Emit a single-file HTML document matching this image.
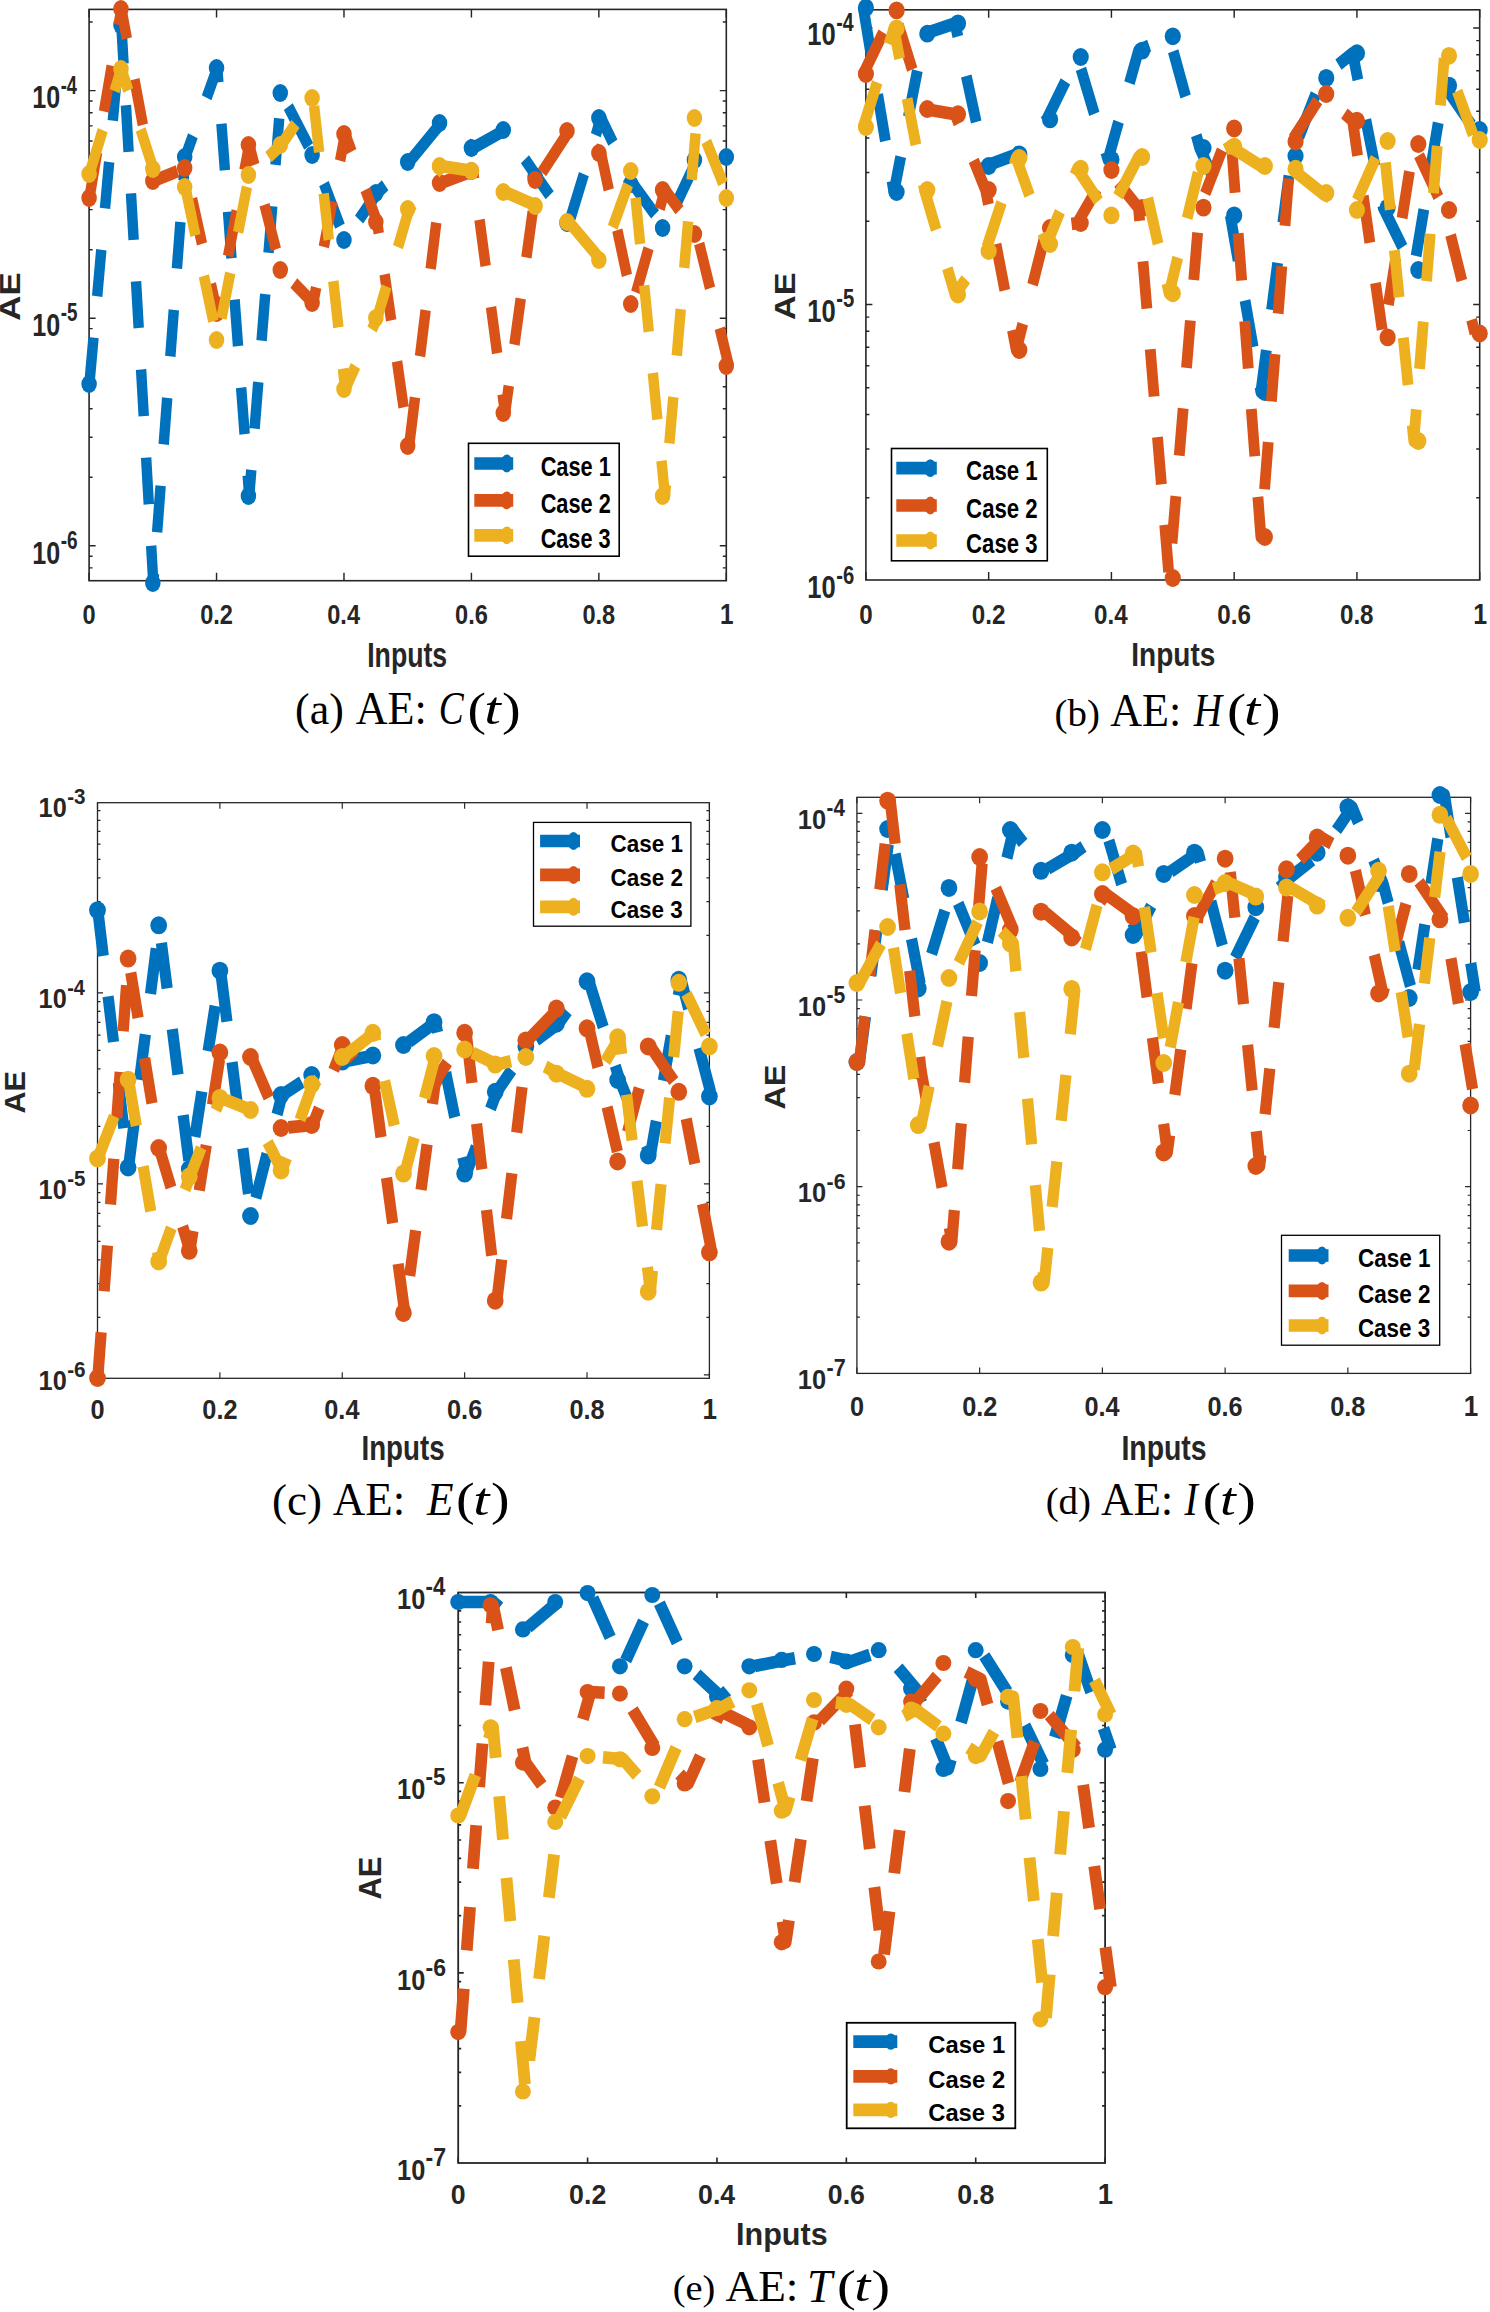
<!DOCTYPE html><html><head><meta charset="utf-8"><title>AE plots</title><style>html,body{margin:0;padding:0;background:#fff;}svg{display:block;}</style></head><body>
<svg width="1490" height="2312" viewBox="0 0 1490 2312">
<rect width="1490" height="2312" fill="#fff"/>
<g><path d="M89.1 580.7v-8M89.1 9.4v8M216.54 580.7v-8M216.54 9.4v8M343.98 580.7v-8M343.98 9.4v8M471.42 580.7v-8M471.42 9.4v8M598.86 580.7v-8M598.86 9.4v8M726.3 580.7v-8M726.3 9.4v8M89.1 567.86h3.5M726.3 567.86h-3.5M89.1 556.21h3.5M726.3 556.21h-3.5M89.1 545.8h6.5M726.3 545.8h-6.5M89.1 477.29h3.5M726.3 477.29h-3.5M89.1 437.21h3.5M726.3 437.21h-3.5M89.1 408.77h3.5M726.3 408.77h-3.5M89.1 386.71h3.5M726.3 386.71h-3.5M89.1 368.69h3.5M726.3 368.69h-3.5M89.1 353.46h3.5M726.3 353.46h-3.5M89.1 340.26h3.5M726.3 340.26h-3.5M89.1 328.61h3.5M726.3 328.61h-3.5M89.1 318.2h6.5M726.3 318.2h-6.5M89.1 249.69h3.5M726.3 249.69h-3.5M89.1 209.61h3.5M726.3 209.61h-3.5M89.1 181.17h3.5M726.3 181.17h-3.5M89.1 159.11h3.5M726.3 159.11h-3.5M89.1 141.09h3.5M726.3 141.09h-3.5M89.1 125.86h3.5M726.3 125.86h-3.5M89.1 112.66h3.5M726.3 112.66h-3.5M89.1 101.01h3.5M726.3 101.01h-3.5M89.1 90.6h6.5M726.3 90.6h-6.5M89.1 22.09h3.5M726.3 22.09h-3.5" stroke="#262626" stroke-width="1.44" fill="none"/><rect x="89.1" y="9.4" width="637.2" height="571.3" fill="none" stroke="#262626" stroke-width="1.6"/><text transform="matrix(0.83,0,0,1,82.58,623.52)" font-family='"Liberation Sans", sans-serif' font-size="28.41" font-weight="bold" fill="#262626">0</text><text transform="matrix(0.83,0,0,1,200.21,623.52)" font-family='"Liberation Sans", sans-serif' font-size="28.41" font-weight="bold" fill="#262626">0.2</text><text transform="matrix(0.83,0,0,1,327.24,623.52)" font-family='"Liberation Sans", sans-serif' font-size="28.41" font-weight="bold" fill="#262626">0.4</text><text transform="matrix(0.83,0,0,1,455.03,623.52)" font-family='"Liberation Sans", sans-serif' font-size="28.41" font-weight="bold" fill="#262626">0.6</text><text transform="matrix(0.83,0,0,1,582.41,623.52)" font-family='"Liberation Sans", sans-serif' font-size="28.41" font-weight="bold" fill="#262626">0.8</text><text transform="matrix(0.83,0,0,1,719.97,623.8)" font-family='"Liberation Sans", sans-serif' font-size="29.24" font-weight="bold" fill="#262626">1</text><text transform="matrix(0.8,0,0,1,32.34,563.58)" font-family='"Liberation Sans", sans-serif' font-size="31.38" font-weight="bold" fill="#262626">10</text><text transform="matrix(0.74,0,0,1,60.64,548.65)" font-family='"Liberation Sans", sans-serif' font-size="25.73" font-weight="bold" fill="#262626">-6</text><text transform="matrix(0.8,0,0,1,32.34,335.98)" font-family='"Liberation Sans", sans-serif' font-size="31.38" font-weight="bold" fill="#262626">10</text><text transform="matrix(0.72,0,0,1,60.65,321.05)" font-family='"Liberation Sans", sans-serif' font-size="26.1" font-weight="bold" fill="#262626">-5</text><text transform="matrix(0.8,0,0,1,32.34,108.38)" font-family='"Liberation Sans", sans-serif' font-size="31.38" font-weight="bold" fill="#262626">10</text><text transform="matrix(0.69,0,0,1,60.67,93.71)" font-family='"Liberation Sans", sans-serif' font-size="26.48" font-weight="bold" fill="#262626">-4</text><text transform="matrix(0.77,0,0,1,367.2,666.71)" font-family='"Liberation Sans", sans-serif' font-size="34.64" font-weight="bold" fill="#262626">Inputs</text><text transform="matrix(0,-1.15,1,0,19.8,320.67)" font-family='"Liberation Sans", sans-serif' font-size="30.25" font-weight="bold" fill="#262626">AE</text><path transform="matrix(0.83,0,0,1,15.41,0)" d="M89.1 384 L127.62 25 L166.15 583 L204.67 157 L243.2 68 L281.72 496 L320.25 93 L358.77 155 L397.3 240 L435.82 193 L474.35 162 L512.87 123 L551.4 148 L589.92 130 L628.45 177 L666.97 223 L705.5 118 L744.02 184 L782.55 228 L821.07 160 L859.6 157" fill="none" stroke="#0072BD" stroke-width="12.6" stroke-dasharray="46.7 41.6" stroke-linejoin="round"/><ellipse cx="89.1" cy="384" rx="7.76" ry="8.9" fill="#0072BD"/><ellipse cx="120.96" cy="25" rx="7.76" ry="8.9" fill="#0072BD"/><ellipse cx="152.82" cy="583" rx="7.76" ry="8.9" fill="#0072BD"/><ellipse cx="184.68" cy="157" rx="7.76" ry="8.9" fill="#0072BD"/><ellipse cx="216.54" cy="68" rx="7.76" ry="8.9" fill="#0072BD"/><ellipse cx="248.4" cy="496" rx="7.76" ry="8.9" fill="#0072BD"/><ellipse cx="280.26" cy="93" rx="7.76" ry="8.9" fill="#0072BD"/><ellipse cx="312.12" cy="155" rx="7.76" ry="8.9" fill="#0072BD"/><ellipse cx="343.98" cy="240" rx="7.76" ry="8.9" fill="#0072BD"/><ellipse cx="375.84" cy="193" rx="7.76" ry="8.9" fill="#0072BD"/><ellipse cx="407.7" cy="162" rx="7.76" ry="8.9" fill="#0072BD"/><ellipse cx="439.56" cy="123" rx="7.76" ry="8.9" fill="#0072BD"/><ellipse cx="471.42" cy="148" rx="7.76" ry="8.9" fill="#0072BD"/><ellipse cx="503.28" cy="130" rx="7.76" ry="8.9" fill="#0072BD"/><ellipse cx="535.14" cy="177" rx="7.76" ry="8.9" fill="#0072BD"/><ellipse cx="567" cy="223" rx="7.76" ry="8.9" fill="#0072BD"/><ellipse cx="598.86" cy="118" rx="7.76" ry="8.9" fill="#0072BD"/><ellipse cx="630.72" cy="184" rx="7.76" ry="8.9" fill="#0072BD"/><ellipse cx="662.58" cy="228" rx="7.76" ry="8.9" fill="#0072BD"/><ellipse cx="694.44" cy="160" rx="7.76" ry="8.9" fill="#0072BD"/><ellipse cx="726.3" cy="157" rx="7.76" ry="8.9" fill="#0072BD"/><path transform="matrix(0.83,0,0,1,15.41,0)" d="M89.1 198 L127.62 9 L166.15 181 L204.67 168 L243.2 313 L281.72 145 L320.25 270 L358.77 303 L397.3 134 L435.82 222 L474.35 446 L512.87 183 L551.4 171 L589.92 413 L628.45 180 L666.97 131 L705.5 153 L744.02 304 L782.55 190 L821.07 234 L859.6 366" fill="none" stroke="#D95319" stroke-width="12.6" stroke-dasharray="46.7 41.6" stroke-linejoin="round"/><ellipse cx="89.1" cy="198" rx="7.76" ry="8.9" fill="#D95319"/><ellipse cx="120.96" cy="9" rx="7.76" ry="8.9" fill="#D95319"/><ellipse cx="152.82" cy="181" rx="7.76" ry="8.9" fill="#D95319"/><ellipse cx="184.68" cy="168" rx="7.76" ry="8.9" fill="#D95319"/><ellipse cx="216.54" cy="313" rx="7.76" ry="8.9" fill="#D95319"/><ellipse cx="248.4" cy="145" rx="7.76" ry="8.9" fill="#D95319"/><ellipse cx="280.26" cy="270" rx="7.76" ry="8.9" fill="#D95319"/><ellipse cx="312.12" cy="303" rx="7.76" ry="8.9" fill="#D95319"/><ellipse cx="343.98" cy="134" rx="7.76" ry="8.9" fill="#D95319"/><ellipse cx="375.84" cy="222" rx="7.76" ry="8.9" fill="#D95319"/><ellipse cx="407.7" cy="446" rx="7.76" ry="8.9" fill="#D95319"/><ellipse cx="439.56" cy="183" rx="7.76" ry="8.9" fill="#D95319"/><ellipse cx="471.42" cy="171" rx="7.76" ry="8.9" fill="#D95319"/><ellipse cx="503.28" cy="413" rx="7.76" ry="8.9" fill="#D95319"/><ellipse cx="535.14" cy="180" rx="7.76" ry="8.9" fill="#D95319"/><ellipse cx="567" cy="131" rx="7.76" ry="8.9" fill="#D95319"/><ellipse cx="598.86" cy="153" rx="7.76" ry="8.9" fill="#D95319"/><ellipse cx="630.72" cy="304" rx="7.76" ry="8.9" fill="#D95319"/><ellipse cx="662.58" cy="190" rx="7.76" ry="8.9" fill="#D95319"/><ellipse cx="694.44" cy="234" rx="7.76" ry="8.9" fill="#D95319"/><ellipse cx="726.3" cy="366" rx="7.76" ry="8.9" fill="#D95319"/><path transform="matrix(0.83,0,0,1,15.41,0)" d="M89.1 174 L127.62 69 L166.15 169 L204.67 187 L243.2 340 L281.72 175 L320.25 145 L358.77 98 L397.3 389 L435.82 318 L474.35 209 L512.87 166 L551.4 171 L589.92 192 L628.45 206 L666.97 222 L705.5 260 L744.02 171 L782.55 496 L821.07 118 L859.6 198" fill="none" stroke="#EDB120" stroke-width="12.6" stroke-dasharray="46.7 41.6" stroke-linejoin="round"/><ellipse cx="89.1" cy="174" rx="7.76" ry="8.9" fill="#EDB120"/><ellipse cx="120.96" cy="69" rx="7.76" ry="8.9" fill="#EDB120"/><ellipse cx="152.82" cy="169" rx="7.76" ry="8.9" fill="#EDB120"/><ellipse cx="184.68" cy="187" rx="7.76" ry="8.9" fill="#EDB120"/><ellipse cx="216.54" cy="340" rx="7.76" ry="8.9" fill="#EDB120"/><ellipse cx="248.4" cy="175" rx="7.76" ry="8.9" fill="#EDB120"/><ellipse cx="280.26" cy="145" rx="7.76" ry="8.9" fill="#EDB120"/><ellipse cx="312.12" cy="98" rx="7.76" ry="8.9" fill="#EDB120"/><ellipse cx="343.98" cy="389" rx="7.76" ry="8.9" fill="#EDB120"/><ellipse cx="375.84" cy="318" rx="7.76" ry="8.9" fill="#EDB120"/><ellipse cx="407.7" cy="209" rx="7.76" ry="8.9" fill="#EDB120"/><ellipse cx="439.56" cy="166" rx="7.76" ry="8.9" fill="#EDB120"/><ellipse cx="471.42" cy="171" rx="7.76" ry="8.9" fill="#EDB120"/><ellipse cx="503.28" cy="192" rx="7.76" ry="8.9" fill="#EDB120"/><ellipse cx="535.14" cy="206" rx="7.76" ry="8.9" fill="#EDB120"/><ellipse cx="567" cy="222" rx="7.76" ry="8.9" fill="#EDB120"/><ellipse cx="598.86" cy="260" rx="7.76" ry="8.9" fill="#EDB120"/><ellipse cx="630.72" cy="171" rx="7.76" ry="8.9" fill="#EDB120"/><ellipse cx="662.58" cy="496" rx="7.76" ry="8.9" fill="#EDB120"/><ellipse cx="694.44" cy="118" rx="7.76" ry="8.9" fill="#EDB120"/><ellipse cx="726.3" cy="198" rx="7.76" ry="8.9" fill="#EDB120"/><rect x="468.5" y="443.3" width="150.7" height="112.9" fill="#fff" stroke="#000" stroke-width="1.6"/><path d="M474.3 463.5H513.2" stroke="#0072BD" stroke-width="12.7"/><ellipse cx="506.7" cy="463.5" rx="6" ry="8.9" fill="#0072BD"/><text transform="matrix(0.79,0,0,1,540.63,475.87)" font-family='"Liberation Sans", sans-serif' font-size="27.56" font-weight="bold" fill="#000">Case 1</text><path d="M474.3 500.4H513.2" stroke="#D95319" stroke-width="12.7"/><ellipse cx="506.7" cy="500.4" rx="6" ry="8.9" fill="#D95319"/><text transform="matrix(0.79,0,0,1,540.63,512.77)" font-family='"Liberation Sans", sans-serif' font-size="27.56" font-weight="bold" fill="#000">Case 2</text><path d="M474.3 535.3H513.2" stroke="#EDB120" stroke-width="12.7"/><ellipse cx="506.7" cy="535.3" rx="6" ry="8.9" fill="#EDB120"/><text transform="matrix(0.79,0,0,1,540.63,547.61)" font-family='"Liberation Sans", sans-serif' font-size="27.46" font-weight="bold" fill="#000">Case 3</text></g>
<text transform="matrix(0.99,0,0,1,295.12,723.69)" font-family='"Liberation Serif", serif' font-size="44.3" fill="#000">(a)</text>
<text transform="matrix(0.97,0,0,1,355.76,723.72)" font-family='"Liberation Serif", serif' font-size="45.48" fill="#000">AE:</text>
<text transform="matrix(0.82,0,0,1,438.63,724.14)" font-family='"Liberation Serif", serif' font-size="45.65" font-style="italic" fill="#000">C</text>
<text transform="matrix(1.21,0,0,1,467.49,724.54)" font-family='"Liberation Serif", serif' font-size="45.95" fill="#000">(</text>
<text transform="matrix(1.28,0,0,1,484.21,724.13)" font-family='"Liberation Serif", serif' font-size="46.61" font-style="italic" fill="#000">t</text>
<text transform="matrix(1.23,0,0,1,501.97,724.61)" font-family='"Liberation Serif", serif' font-size="45.62" fill="#000">)</text>
<g><path d="M865.9 580v-8M865.9 9.8v8M988.66 580v-8M988.66 9.8v8M1111.42 580v-8M1111.42 9.8v8M1234.18 580v-8M1234.18 9.8v8M1356.94 580v-8M1356.94 9.8v8M1479.7 580v-8M1479.7 9.8v8M865.9 497.77h3.5M1479.7 497.77h-3.5M865.9 449.08h3.5M1479.7 449.08h-3.5M865.9 414.53h3.5M1479.7 414.53h-3.5M865.9 387.73h3.5M1479.7 387.73h-3.5M865.9 365.84h3.5M1479.7 365.84h-3.5M865.9 347.33h3.5M1479.7 347.33h-3.5M865.9 331.3h3.5M1479.7 331.3h-3.5M865.9 317.15h3.5M1479.7 317.15h-3.5M865.9 304.5h6.5M1479.7 304.5h-6.5M865.9 221.27h3.5M1479.7 221.27h-3.5M865.9 172.58h3.5M1479.7 172.58h-3.5M865.9 138.03h3.5M1479.7 138.03h-3.5M865.9 111.23h3.5M1479.7 111.23h-3.5M865.9 89.34h3.5M1479.7 89.34h-3.5M865.9 70.83h3.5M1479.7 70.83h-3.5M865.9 54.8h3.5M1479.7 54.8h-3.5M865.9 40.65h3.5M1479.7 40.65h-3.5M865.9 28h6.5M1479.7 28h-6.5" stroke="#262626" stroke-width="1.44" fill="none"/><rect x="865.9" y="9.8" width="613.8" height="570.2" fill="none" stroke="#262626" stroke-width="1.6"/><text transform="matrix(0.86,0,0,1,859.16,623.52)" font-family='"Liberation Sans", sans-serif' font-size="28.13" font-weight="bold" fill="#262626">0</text><text transform="matrix(0.86,0,0,1,971.79,623.52)" font-family='"Liberation Sans", sans-serif' font-size="28.13" font-weight="bold" fill="#262626">0.2</text><text transform="matrix(0.86,0,0,1,1094.12,623.52)" font-family='"Liberation Sans", sans-serif' font-size="28.13" font-weight="bold" fill="#262626">0.4</text><text transform="matrix(0.86,0,0,1,1217.25,623.52)" font-family='"Liberation Sans", sans-serif' font-size="28.13" font-weight="bold" fill="#262626">0.6</text><text transform="matrix(0.86,0,0,1,1339.95,623.52)" font-family='"Liberation Sans", sans-serif' font-size="28.13" font-weight="bold" fill="#262626">0.8</text><text transform="matrix(0.86,0,0,1,1473.13,623.8)" font-family='"Liberation Sans", sans-serif' font-size="28.95" font-weight="bold" fill="#262626">1</text><text transform="matrix(0.83,0,0,1,807.29,598.46)" font-family='"Liberation Sans", sans-serif' font-size="30.81" font-weight="bold" fill="#262626">10</text><text transform="matrix(0.8,0,0,1,836.29,583.8)" font-family='"Liberation Sans", sans-serif' font-size="25.27" font-weight="bold" fill="#262626">-6</text><text transform="matrix(0.83,0,0,1,807.29,321.96)" font-family='"Liberation Sans", sans-serif' font-size="30.81" font-weight="bold" fill="#262626">10</text><text transform="matrix(0.79,0,0,1,836.3,307.3)" font-family='"Liberation Sans", sans-serif' font-size="25.63" font-weight="bold" fill="#262626">-5</text><text transform="matrix(0.83,0,0,1,807.29,45.46)" font-family='"Liberation Sans", sans-serif' font-size="30.81" font-weight="bold" fill="#262626">10</text><text transform="matrix(0.75,0,0,1,836.32,31.05)" font-family='"Liberation Sans", sans-serif' font-size="26" font-weight="bold" fill="#262626">-4</text><text transform="matrix(0.85,0,0,1,1131.32,665.76)" font-family='"Liberation Sans", sans-serif' font-size="32.96" font-weight="bold" fill="#262626">Inputs</text><text transform="matrix(0,-1.13,1,0,794.9,319.95)" font-family='"Liberation Sans", sans-serif' font-size="30.25" font-weight="bold" fill="#262626">AE</text><path transform="matrix(0.86,0,0,1,118.63,0)" d="M865.9 7.8 L901.46 192 L937.02 33.7 L972.59 23.4 L1008.15 166 L1043.71 154.4 L1079.27 119.4 L1114.83 57 L1150.4 159.6 L1185.96 50.6 L1221.52 36.3 L1257.08 148 L1292.64 215.4 L1328.21 392 L1363.77 156 L1399.33 77.9 L1434.89 53.2 L1470.45 207.6 L1506.02 270 L1541.58 85.6 L1577.14 130" fill="none" stroke="#0072BD" stroke-width="12.6" stroke-dasharray="47.5 40.7" stroke-linejoin="round"/><ellipse cx="865.9" cy="7.8" rx="8.08" ry="8.9" fill="#0072BD"/><ellipse cx="896.59" cy="192" rx="8.08" ry="8.9" fill="#0072BD"/><ellipse cx="927.28" cy="33.7" rx="8.08" ry="8.9" fill="#0072BD"/><ellipse cx="957.97" cy="23.4" rx="8.08" ry="8.9" fill="#0072BD"/><ellipse cx="988.66" cy="166" rx="8.08" ry="8.9" fill="#0072BD"/><ellipse cx="1019.35" cy="154.4" rx="8.08" ry="8.9" fill="#0072BD"/><ellipse cx="1050.04" cy="119.4" rx="8.08" ry="8.9" fill="#0072BD"/><ellipse cx="1080.73" cy="57" rx="8.08" ry="8.9" fill="#0072BD"/><ellipse cx="1111.42" cy="159.6" rx="8.08" ry="8.9" fill="#0072BD"/><ellipse cx="1142.11" cy="50.6" rx="8.08" ry="8.9" fill="#0072BD"/><ellipse cx="1172.8" cy="36.3" rx="8.08" ry="8.9" fill="#0072BD"/><ellipse cx="1203.49" cy="148" rx="8.08" ry="8.9" fill="#0072BD"/><ellipse cx="1234.18" cy="215.4" rx="8.08" ry="8.9" fill="#0072BD"/><ellipse cx="1264.87" cy="392" rx="8.08" ry="8.9" fill="#0072BD"/><ellipse cx="1295.56" cy="156" rx="8.08" ry="8.9" fill="#0072BD"/><ellipse cx="1326.25" cy="77.9" rx="8.08" ry="8.9" fill="#0072BD"/><ellipse cx="1356.94" cy="53.2" rx="8.08" ry="8.9" fill="#0072BD"/><ellipse cx="1387.63" cy="207.6" rx="8.08" ry="8.9" fill="#0072BD"/><ellipse cx="1418.32" cy="270" rx="8.08" ry="8.9" fill="#0072BD"/><ellipse cx="1449.01" cy="85.6" rx="8.08" ry="8.9" fill="#0072BD"/><ellipse cx="1479.7" cy="130" rx="8.08" ry="8.9" fill="#0072BD"/><path transform="matrix(0.86,0,0,1,118.63,0)" d="M865.9 74 L901.46 10.4 L937.02 109 L972.59 114.2 L1008.15 190 L1043.71 350 L1079.27 228 L1114.83 223 L1150.4 170 L1185.96 208 L1221.52 578 L1257.08 207.6 L1292.64 128.5 L1328.21 537 L1363.77 141.5 L1399.33 94 L1434.89 120.7 L1470.45 337.4 L1506.02 144 L1541.58 210 L1577.14 333.5" fill="none" stroke="#D95319" stroke-width="12.6" stroke-dasharray="47.5 40.7" stroke-linejoin="round"/><ellipse cx="865.9" cy="74" rx="8.08" ry="8.9" fill="#D95319"/><ellipse cx="896.59" cy="10.4" rx="8.08" ry="8.9" fill="#D95319"/><ellipse cx="927.28" cy="109" rx="8.08" ry="8.9" fill="#D95319"/><ellipse cx="957.97" cy="114.2" rx="8.08" ry="8.9" fill="#D95319"/><ellipse cx="988.66" cy="190" rx="8.08" ry="8.9" fill="#D95319"/><ellipse cx="1019.35" cy="350" rx="8.08" ry="8.9" fill="#D95319"/><ellipse cx="1050.04" cy="228" rx="8.08" ry="8.9" fill="#D95319"/><ellipse cx="1080.73" cy="223" rx="8.08" ry="8.9" fill="#D95319"/><ellipse cx="1111.42" cy="170" rx="8.08" ry="8.9" fill="#D95319"/><ellipse cx="1142.11" cy="208" rx="8.08" ry="8.9" fill="#D95319"/><ellipse cx="1172.8" cy="578" rx="8.08" ry="8.9" fill="#D95319"/><ellipse cx="1203.49" cy="207.6" rx="8.08" ry="8.9" fill="#D95319"/><ellipse cx="1234.18" cy="128.5" rx="8.08" ry="8.9" fill="#D95319"/><ellipse cx="1264.87" cy="537" rx="8.08" ry="8.9" fill="#D95319"/><ellipse cx="1295.56" cy="141.5" rx="8.08" ry="8.9" fill="#D95319"/><ellipse cx="1326.25" cy="94" rx="8.08" ry="8.9" fill="#D95319"/><ellipse cx="1356.94" cy="120.7" rx="8.08" ry="8.9" fill="#D95319"/><ellipse cx="1387.63" cy="337.4" rx="8.08" ry="8.9" fill="#D95319"/><ellipse cx="1418.32" cy="144" rx="8.08" ry="8.9" fill="#D95319"/><ellipse cx="1449.01" cy="210" rx="8.08" ry="8.9" fill="#D95319"/><ellipse cx="1479.7" cy="333.5" rx="8.08" ry="8.9" fill="#D95319"/><path transform="matrix(0.86,0,0,1,118.63,0)" d="M865.9 127 L901.46 28.5 L937.02 190 L972.59 294.5 L1008.15 251 L1043.71 158 L1079.27 244 L1114.83 168.7 L1150.4 215.4 L1185.96 157 L1221.52 293.3 L1257.08 166 L1292.64 146.6 L1328.21 166 L1363.77 168.7 L1399.33 193 L1434.89 210 L1470.45 141 L1506.02 441 L1541.58 55.8 L1577.14 140" fill="none" stroke="#EDB120" stroke-width="12.6" stroke-dasharray="47.5 40.7" stroke-linejoin="round"/><ellipse cx="865.9" cy="127" rx="8.08" ry="8.9" fill="#EDB120"/><ellipse cx="896.59" cy="28.5" rx="8.08" ry="8.9" fill="#EDB120"/><ellipse cx="927.28" cy="190" rx="8.08" ry="8.9" fill="#EDB120"/><ellipse cx="957.97" cy="294.5" rx="8.08" ry="8.9" fill="#EDB120"/><ellipse cx="988.66" cy="251" rx="8.08" ry="8.9" fill="#EDB120"/><ellipse cx="1019.35" cy="158" rx="8.08" ry="8.9" fill="#EDB120"/><ellipse cx="1050.04" cy="244" rx="8.08" ry="8.9" fill="#EDB120"/><ellipse cx="1080.73" cy="168.7" rx="8.08" ry="8.9" fill="#EDB120"/><ellipse cx="1111.42" cy="215.4" rx="8.08" ry="8.9" fill="#EDB120"/><ellipse cx="1142.11" cy="157" rx="8.08" ry="8.9" fill="#EDB120"/><ellipse cx="1172.8" cy="293.3" rx="8.08" ry="8.9" fill="#EDB120"/><ellipse cx="1203.49" cy="166" rx="8.08" ry="8.9" fill="#EDB120"/><ellipse cx="1234.18" cy="146.6" rx="8.08" ry="8.9" fill="#EDB120"/><ellipse cx="1264.87" cy="166" rx="8.08" ry="8.9" fill="#EDB120"/><ellipse cx="1295.56" cy="168.7" rx="8.08" ry="8.9" fill="#EDB120"/><ellipse cx="1326.25" cy="193" rx="8.08" ry="8.9" fill="#EDB120"/><ellipse cx="1356.94" cy="210" rx="8.08" ry="8.9" fill="#EDB120"/><ellipse cx="1387.63" cy="141" rx="8.08" ry="8.9" fill="#EDB120"/><ellipse cx="1418.32" cy="441" rx="8.08" ry="8.9" fill="#EDB120"/><ellipse cx="1449.01" cy="55.8" rx="8.08" ry="8.9" fill="#EDB120"/><ellipse cx="1479.7" cy="140" rx="8.08" ry="8.9" fill="#EDB120"/><rect x="891.5" y="448.5" width="155.8" height="112.3" fill="#fff" stroke="#000" stroke-width="1.6"/><path d="M896.3 468.1H936.8" stroke="#0072BD" stroke-width="12.7"/><ellipse cx="930.3" cy="468.1" rx="6" ry="8.9" fill="#0072BD"/><text transform="matrix(0.81,0,0,1,966.11,480.43)" font-family='"Liberation Sans", sans-serif' font-size="27.42" font-weight="bold" fill="#000">Case 1</text><path d="M896.3 505.5H936.8" stroke="#D95319" stroke-width="12.7"/><ellipse cx="930.3" cy="505.5" rx="6" ry="8.9" fill="#D95319"/><text transform="matrix(0.81,0,0,1,966.11,517.83)" font-family='"Liberation Sans", sans-serif' font-size="27.42" font-weight="bold" fill="#000">Case 2</text><path d="M896.3 540.5H936.8" stroke="#EDB120" stroke-width="12.7"/><ellipse cx="930.3" cy="540.5" rx="6" ry="8.9" fill="#EDB120"/><text transform="matrix(0.81,0,0,1,966.11,552.76)" font-family='"Liberation Sans", sans-serif' font-size="27.32" font-weight="bold" fill="#000">Case 3</text></g>
<text transform="matrix(1.04,0,0,1,1054.55,725.76)" font-family='"Liberation Serif", serif' font-size="37.36" fill="#000">(b)</text>
<text transform="matrix(0.97,0,0,1,1110.26,725.92)" font-family='"Liberation Serif", serif' font-size="45.48" fill="#000">AE:</text>
<text transform="matrix(0.85,0,0,1,1193.79,725.9)" font-family='"Liberation Serif", serif' font-size="46.11" font-style="italic" fill="#000">H</text>
<text transform="matrix(1.26,0,0,1,1226.92,725.81)" font-family='"Liberation Serif", serif' font-size="45.62" fill="#000">(</text>
<text transform="matrix(1.25,0,0,1,1244.1,725.44)" font-family='"Liberation Serif", serif' font-size="46.43" font-style="italic" fill="#000">t</text>
<text transform="matrix(1.22,0,0,1,1262.1,725.81)" font-family='"Liberation Serif", serif' font-size="45.62" fill="#000">)</text>
<g><path d="M97.5 1378.3v-6M97.5 802.7v6M219.88 1378.3v-6M219.88 802.7v6M342.26 1378.3v-6M342.26 802.7v6M464.64 1378.3v-6M464.64 802.7v6M587.02 1378.3v-6M587.02 802.7v6M709.4 1378.3v-6M709.4 802.7v6M97.5 1374.8h5.5M709.4 1374.8h-5.5M97.5 1317.3h3M709.4 1317.3h-3M97.5 1283.67h3M709.4 1283.67h-3M97.5 1259.81h3M709.4 1259.81h-3M97.5 1241.3h3M709.4 1241.3h-3M97.5 1226.17h3M709.4 1226.17h-3M97.5 1213.39h3M709.4 1213.39h-3M97.5 1202.31h3M709.4 1202.31h-3M97.5 1192.54h3M709.4 1192.54h-3M97.5 1183.8h5.5M709.4 1183.8h-5.5M97.5 1126.3h3M709.4 1126.3h-3M97.5 1092.67h3M709.4 1092.67h-3M97.5 1068.81h3M709.4 1068.81h-3M97.5 1050.3h3M709.4 1050.3h-3M97.5 1035.17h3M709.4 1035.17h-3M97.5 1022.39h3M709.4 1022.39h-3M97.5 1011.31h3M709.4 1011.31h-3M97.5 1001.54h3M709.4 1001.54h-3M97.5 992.8h5.5M709.4 992.8h-5.5M97.5 935.3h3M709.4 935.3h-3M97.5 901.67h3M709.4 901.67h-3M97.5 877.81h3M709.4 877.81h-3M97.5 859.3h3M709.4 859.3h-3M97.5 844.17h3M709.4 844.17h-3M97.5 831.39h3M709.4 831.39h-3M97.5 820.31h3M709.4 820.31h-3M97.5 810.54h3M709.4 810.54h-3" stroke="#262626" stroke-width="1.17" fill="none"/><rect x="97.5" y="802.7" width="611.9" height="575.6" fill="none" stroke="#262626" stroke-width="1.3"/><text transform="matrix(0.89,0,0,1,90.51,1418.62)" font-family='"Liberation Sans", sans-serif' font-size="28.41" font-weight="bold" fill="#262626">0</text><text transform="matrix(0.89,0,0,1,202.37,1418.62)" font-family='"Liberation Sans", sans-serif' font-size="28.41" font-weight="bold" fill="#262626">0.2</text><text transform="matrix(0.89,0,0,1,324.31,1418.62)" font-family='"Liberation Sans", sans-serif' font-size="28.41" font-weight="bold" fill="#262626">0.4</text><text transform="matrix(0.89,0,0,1,447.06,1418.62)" font-family='"Liberation Sans", sans-serif' font-size="28.41" font-weight="bold" fill="#262626">0.6</text><text transform="matrix(0.89,0,0,1,569.38,1418.62)" font-family='"Liberation Sans", sans-serif' font-size="28.41" font-weight="bold" fill="#262626">0.8</text><text transform="matrix(0.89,0,0,1,702.55,1418.9)" font-family='"Liberation Sans", sans-serif' font-size="29.24" font-weight="bold" fill="#262626">1</text><text transform="matrix(0.94,0,0,1,38.62,1390.02)" font-family='"Liberation Sans", sans-serif' font-size="26.86" font-weight="bold" fill="#262626">10</text><text transform="matrix(0.94,0,0,1,67.17,1377.24)" font-family='"Liberation Sans", sans-serif' font-size="22.02" font-weight="bold" fill="#262626">-6</text><text transform="matrix(0.94,0,0,1,38.62,1199.02)" font-family='"Liberation Sans", sans-serif' font-size="26.86" font-weight="bold" fill="#262626">10</text><text transform="matrix(0.92,0,0,1,67.18,1186.24)" font-family='"Liberation Sans", sans-serif' font-size="22.34" font-weight="bold" fill="#262626">-5</text><text transform="matrix(0.94,0,0,1,38.62,1008.02)" font-family='"Liberation Sans", sans-serif' font-size="26.86" font-weight="bold" fill="#262626">10</text><text transform="matrix(0.88,0,0,1,67.2,995.46)" font-family='"Liberation Sans", sans-serif' font-size="22.66" font-weight="bold" fill="#262626">-4</text><text transform="matrix(0.94,0,0,1,38.62,817.02)" font-family='"Liberation Sans", sans-serif' font-size="26.86" font-weight="bold" fill="#262626">10</text><text transform="matrix(0.94,0,0,1,67.17,804.19)" font-family='"Liberation Sans", sans-serif' font-size="21.94" font-weight="bold" fill="#262626">-3</text><text transform="matrix(0.78,0,0,1,361.43,1459.93)" font-family='"Liberation Sans", sans-serif' font-size="35.53" font-weight="bold" fill="#262626">Inputs</text><text transform="matrix(0,-1.01,1,0,25,1113.57)" font-family='"Liberation Sans", sans-serif' font-size="30.4" font-weight="bold" fill="#262626">AE</text><path transform="matrix(0.89,0,0,1,11.02,0)" d="M97.5 910.2 L131.99 1167.5 L166.49 925.3 L200.98 1169 L235.47 970.7 L269.96 1216 L304.46 1095 L338.95 1075 L373.44 1061.6 L407.93 1055.5 L442.43 1045 L476.92 1022.2 L511.41 1173.6 L545.9 1091.8 L580.4 1046.4 L614.89 1023.7 L649.38 981.3 L683.88 1080 L718.37 1155.4 L752.86 979.8 L787.35 1096.4" fill="none" stroke="#0072BD" stroke-width="12.6" stroke-dasharray="46 41" stroke-linejoin="round"/><ellipse cx="97.5" cy="910.2" rx="8.38" ry="9" fill="#0072BD"/><ellipse cx="128.09" cy="1167.5" rx="8.38" ry="9" fill="#0072BD"/><ellipse cx="158.69" cy="925.3" rx="8.38" ry="9" fill="#0072BD"/><ellipse cx="189.28" cy="1169" rx="8.38" ry="9" fill="#0072BD"/><ellipse cx="219.88" cy="970.7" rx="8.38" ry="9" fill="#0072BD"/><ellipse cx="250.47" cy="1216" rx="8.38" ry="9" fill="#0072BD"/><ellipse cx="281.07" cy="1095" rx="8.38" ry="9" fill="#0072BD"/><ellipse cx="311.67" cy="1075" rx="8.38" ry="9" fill="#0072BD"/><ellipse cx="342.26" cy="1061.6" rx="8.38" ry="9" fill="#0072BD"/><ellipse cx="372.85" cy="1055.5" rx="8.38" ry="9" fill="#0072BD"/><ellipse cx="403.45" cy="1045" rx="8.38" ry="9" fill="#0072BD"/><ellipse cx="434.04" cy="1022.2" rx="8.38" ry="9" fill="#0072BD"/><ellipse cx="464.64" cy="1173.6" rx="8.38" ry="9" fill="#0072BD"/><ellipse cx="495.24" cy="1091.8" rx="8.38" ry="9" fill="#0072BD"/><ellipse cx="525.83" cy="1046.4" rx="8.38" ry="9" fill="#0072BD"/><ellipse cx="556.42" cy="1023.7" rx="8.38" ry="9" fill="#0072BD"/><ellipse cx="587.02" cy="981.3" rx="8.38" ry="9" fill="#0072BD"/><ellipse cx="617.62" cy="1080" rx="8.38" ry="9" fill="#0072BD"/><ellipse cx="648.21" cy="1155.4" rx="8.38" ry="9" fill="#0072BD"/><ellipse cx="678.81" cy="979.8" rx="8.38" ry="9" fill="#0072BD"/><ellipse cx="709.4" cy="1096.4" rx="8.38" ry="9" fill="#0072BD"/><path transform="matrix(0.89,0,0,1,11.02,0)" d="M97.5 1378 L131.99 958.6 L166.49 1148 L200.98 1250.8 L235.47 1052.5 L269.96 1057 L304.46 1128 L338.95 1125 L373.44 1045 L407.93 1085.8 L442.43 1312.9 L476.92 1081 L511.41 1032.8 L545.9 1300.7 L580.4 1040.4 L614.89 1008.6 L649.38 1028.3 L683.88 1161.5 L718.37 1046.4 L752.86 1091.8 L787.35 1252.3" fill="none" stroke="#D95319" stroke-width="12.6" stroke-dasharray="46 41" stroke-linejoin="round"/><ellipse cx="97.5" cy="1378" rx="8.38" ry="9" fill="#D95319"/><ellipse cx="128.09" cy="958.6" rx="8.38" ry="9" fill="#D95319"/><ellipse cx="158.69" cy="1148" rx="8.38" ry="9" fill="#D95319"/><ellipse cx="189.28" cy="1250.8" rx="8.38" ry="9" fill="#D95319"/><ellipse cx="219.88" cy="1052.5" rx="8.38" ry="9" fill="#D95319"/><ellipse cx="250.47" cy="1057" rx="8.38" ry="9" fill="#D95319"/><ellipse cx="281.07" cy="1128" rx="8.38" ry="9" fill="#D95319"/><ellipse cx="311.67" cy="1125" rx="8.38" ry="9" fill="#D95319"/><ellipse cx="342.26" cy="1045" rx="8.38" ry="9" fill="#D95319"/><ellipse cx="372.85" cy="1085.8" rx="8.38" ry="9" fill="#D95319"/><ellipse cx="403.45" cy="1312.9" rx="8.38" ry="9" fill="#D95319"/><ellipse cx="434.04" cy="1081" rx="8.38" ry="9" fill="#D95319"/><ellipse cx="464.64" cy="1032.8" rx="8.38" ry="9" fill="#D95319"/><ellipse cx="495.24" cy="1300.7" rx="8.38" ry="9" fill="#D95319"/><ellipse cx="525.83" cy="1040.4" rx="8.38" ry="9" fill="#D95319"/><ellipse cx="556.42" cy="1008.6" rx="8.38" ry="9" fill="#D95319"/><ellipse cx="587.02" cy="1028.3" rx="8.38" ry="9" fill="#D95319"/><ellipse cx="617.62" cy="1161.5" rx="8.38" ry="9" fill="#D95319"/><ellipse cx="648.21" cy="1046.4" rx="8.38" ry="9" fill="#D95319"/><ellipse cx="678.81" cy="1091.8" rx="8.38" ry="9" fill="#D95319"/><ellipse cx="709.4" cy="1252.3" rx="8.38" ry="9" fill="#D95319"/><path transform="matrix(0.89,0,0,1,11.02,0)" d="M97.5 1158.4 L131.99 1079.7 L166.49 1261.4 L200.98 1176.6 L235.47 1097.9 L269.96 1110 L304.46 1170.5 L338.95 1084.3 L373.44 1057 L407.93 1032.8 L442.43 1173.6 L476.92 1056 L511.41 1049.5 L545.9 1064.6 L580.4 1057 L614.89 1073.7 L649.38 1088.8 L683.88 1037.3 L718.37 1291.7 L752.86 982.8 L787.35 1046.4" fill="none" stroke="#EDB120" stroke-width="12.6" stroke-dasharray="46 41" stroke-linejoin="round"/><ellipse cx="97.5" cy="1158.4" rx="8.38" ry="9" fill="#EDB120"/><ellipse cx="128.09" cy="1079.7" rx="8.38" ry="9" fill="#EDB120"/><ellipse cx="158.69" cy="1261.4" rx="8.38" ry="9" fill="#EDB120"/><ellipse cx="189.28" cy="1176.6" rx="8.38" ry="9" fill="#EDB120"/><ellipse cx="219.88" cy="1097.9" rx="8.38" ry="9" fill="#EDB120"/><ellipse cx="250.47" cy="1110" rx="8.38" ry="9" fill="#EDB120"/><ellipse cx="281.07" cy="1170.5" rx="8.38" ry="9" fill="#EDB120"/><ellipse cx="311.67" cy="1084.3" rx="8.38" ry="9" fill="#EDB120"/><ellipse cx="342.26" cy="1057" rx="8.38" ry="9" fill="#EDB120"/><ellipse cx="372.85" cy="1032.8" rx="8.38" ry="9" fill="#EDB120"/><ellipse cx="403.45" cy="1173.6" rx="8.38" ry="9" fill="#EDB120"/><ellipse cx="434.04" cy="1056" rx="8.38" ry="9" fill="#EDB120"/><ellipse cx="464.64" cy="1049.5" rx="8.38" ry="9" fill="#EDB120"/><ellipse cx="495.24" cy="1064.6" rx="8.38" ry="9" fill="#EDB120"/><ellipse cx="525.83" cy="1057" rx="8.38" ry="9" fill="#EDB120"/><ellipse cx="556.42" cy="1073.7" rx="8.38" ry="9" fill="#EDB120"/><ellipse cx="587.02" cy="1088.8" rx="8.38" ry="9" fill="#EDB120"/><ellipse cx="617.62" cy="1037.3" rx="8.38" ry="9" fill="#EDB120"/><ellipse cx="648.21" cy="1291.7" rx="8.38" ry="9" fill="#EDB120"/><ellipse cx="678.81" cy="982.8" rx="8.38" ry="9" fill="#EDB120"/><ellipse cx="709.4" cy="1046.4" rx="8.38" ry="9" fill="#EDB120"/><rect x="533.5" y="822.4" width="157.4" height="103.8" fill="#fff" stroke="#000" stroke-width="1.3"/><path d="M540.1 841H580" stroke="#0072BD" stroke-width="12.7"/><ellipse cx="573.5" cy="841" rx="6" ry="9" fill="#0072BD"/><text transform="matrix(0.93,0,0,1,610.5,852.21)" font-family='"Liberation Sans", sans-serif' font-size="24.17" font-weight="bold" fill="#000">Case 1</text><path d="M540.1 874.9H580" stroke="#D95319" stroke-width="12.7"/><ellipse cx="573.5" cy="874.9" rx="6" ry="9" fill="#D95319"/><text transform="matrix(0.93,0,0,1,610.5,886.11)" font-family='"Liberation Sans", sans-serif' font-size="24.17" font-weight="bold" fill="#000">Case 2</text><path d="M540.1 906.8H580" stroke="#EDB120" stroke-width="12.7"/><ellipse cx="573.5" cy="906.8" rx="6" ry="9" fill="#EDB120"/><text transform="matrix(0.93,0,0,1,610.5,917.95)" font-family='"Liberation Sans", sans-serif' font-size="24.08" font-weight="bold" fill="#000">Case 3</text></g>
<text transform="matrix(1.02,0,0,1,271.97,1514.71)" font-family='"Liberation Serif", serif' font-size="44.19" fill="#000">(c)</text>
<text transform="matrix(0.98,0,0,1,332.85,1515.01)" font-family='"Liberation Serif", serif' font-size="45.78" fill="#000">AE:</text>
<text transform="matrix(0.93,0,0,1,426.94,1515.3)" font-family='"Liberation Serif", serif' font-size="46.72" font-style="italic" fill="#000">E</text>
<text transform="matrix(1.21,0,0,1,456.08,1515.34)" font-family='"Liberation Serif", serif' font-size="46.39" fill="#000">(</text>
<text transform="matrix(1.24,0,0,1,473.18,1515.13)" font-family='"Liberation Serif", serif' font-size="47.13" font-style="italic" fill="#000">t</text>
<text transform="matrix(1.21,0,0,1,490.88,1515.41)" font-family='"Liberation Serif", serif' font-size="46.06" fill="#000">)</text>
<g><path d="M856.9 1373.4v-6M856.9 797.3v6M979.64 1373.4v-6M979.64 797.3v6M1102.38 1373.4v-6M1102.38 797.3v6M1225.12 1373.4v-6M1225.12 797.3v6M1347.86 1373.4v-6M1347.86 797.3v6M1470.6 1373.4v-6M1470.6 797.3v6M856.9 1317.2h3M1470.6 1317.2h-3M856.9 1284.32h3M1470.6 1284.32h-3M856.9 1261h3M1470.6 1261h-3M856.9 1242.9h3M1470.6 1242.9h-3M856.9 1228.12h3M1470.6 1228.12h-3M856.9 1215.62h3M1470.6 1215.62h-3M856.9 1204.79h3M1470.6 1204.79h-3M856.9 1195.24h3M1470.6 1195.24h-3M856.9 1186.7h5.5M1470.6 1186.7h-5.5M856.9 1130.5h3M1470.6 1130.5h-3M856.9 1097.62h3M1470.6 1097.62h-3M856.9 1074.3h3M1470.6 1074.3h-3M856.9 1056.2h3M1470.6 1056.2h-3M856.9 1041.42h3M1470.6 1041.42h-3M856.9 1028.92h3M1470.6 1028.92h-3M856.9 1018.09h3M1470.6 1018.09h-3M856.9 1008.54h3M1470.6 1008.54h-3M856.9 1000h5.5M1470.6 1000h-5.5M856.9 943.8h3M1470.6 943.8h-3M856.9 910.92h3M1470.6 910.92h-3M856.9 887.6h3M1470.6 887.6h-3M856.9 869.5h3M1470.6 869.5h-3M856.9 854.72h3M1470.6 854.72h-3M856.9 842.22h3M1470.6 842.22h-3M856.9 831.39h3M1470.6 831.39h-3M856.9 821.84h3M1470.6 821.84h-3M856.9 813.3h5.5M1470.6 813.3h-5.5" stroke="#262626" stroke-width="1.17" fill="none"/><rect x="856.9" y="797.3" width="613.7" height="576.1" fill="none" stroke="#262626" stroke-width="1.3"/><text transform="matrix(0.89,0,0,1,849.91,1415.52)" font-family='"Liberation Sans", sans-serif' font-size="28.41" font-weight="bold" fill="#262626">0</text><text transform="matrix(0.89,0,0,1,962.13,1415.52)" font-family='"Liberation Sans", sans-serif' font-size="28.41" font-weight="bold" fill="#262626">0.2</text><text transform="matrix(0.89,0,0,1,1084.43,1415.52)" font-family='"Liberation Sans", sans-serif' font-size="28.41" font-weight="bold" fill="#262626">0.4</text><text transform="matrix(0.89,0,0,1,1207.54,1415.52)" font-family='"Liberation Sans", sans-serif' font-size="28.41" font-weight="bold" fill="#262626">0.6</text><text transform="matrix(0.89,0,0,1,1330.22,1415.52)" font-family='"Liberation Sans", sans-serif' font-size="28.41" font-weight="bold" fill="#262626">0.8</text><text transform="matrix(0.89,0,0,1,1463.75,1415.8)" font-family='"Liberation Sans", sans-serif' font-size="29.24" font-weight="bold" fill="#262626">1</text><text transform="matrix(0.92,0,0,1,797.81,1389.1)" font-family='"Liberation Sans", sans-serif' font-size="27.7" font-weight="bold" fill="#262626">10</text><text transform="matrix(0.92,0,0,1,826.54,1376.14)" font-family='"Liberation Sans", sans-serif' font-size="23.38" font-weight="bold" fill="#262626">-7</text><text transform="matrix(0.92,0,0,1,797.81,1202.4)" font-family='"Liberation Sans", sans-serif' font-size="27.7" font-weight="bold" fill="#262626">10</text><text transform="matrix(0.94,0,0,1,826.54,1189.22)" font-family='"Liberation Sans", sans-serif' font-size="22.72" font-weight="bold" fill="#262626">-6</text><text transform="matrix(0.92,0,0,1,797.81,1015.7)" font-family='"Liberation Sans", sans-serif' font-size="27.7" font-weight="bold" fill="#262626">10</text><text transform="matrix(0.92,0,0,1,826.55,1002.51)" font-family='"Liberation Sans", sans-serif' font-size="23.04" font-weight="bold" fill="#262626">-5</text><text transform="matrix(0.92,0,0,1,797.81,829)" font-family='"Liberation Sans", sans-serif' font-size="27.7" font-weight="bold" fill="#262626">10</text><text transform="matrix(0.88,0,0,1,826.57,816.04)" font-family='"Liberation Sans", sans-serif' font-size="23.38" font-weight="bold" fill="#262626">-4</text><text transform="matrix(0.8,0,0,1,1121.39,1459.93)" font-family='"Liberation Sans", sans-serif' font-size="35.53" font-weight="bold" fill="#262626">Inputs</text><text transform="matrix(0,-1.07,1,0,784.9,1109.61)" font-family='"Liberation Sans", sans-serif' font-size="30.25" font-weight="bold" fill="#262626">AE</text><path transform="matrix(0.89,0,0,1,96.83,0)" d="M856.9 1062 L891.49 829 L926.09 988.4 L960.68 887.9 L995.28 963 L1029.87 830 L1064.46 870.8 L1099.06 852.7 L1133.65 830 L1168.25 935 L1202.84 873.9 L1237.44 852.7 L1272.03 970.7 L1306.62 907.2 L1341.22 877 L1375.81 852.7 L1410.41 807.2 L1445 883 L1479.59 998 L1514.19 795 L1548.78 992" fill="none" stroke="#0072BD" stroke-width="12.6" stroke-dasharray="46 41" stroke-linejoin="round"/><ellipse cx="856.9" cy="1062" rx="8.38" ry="9" fill="#0072BD"/><ellipse cx="887.58" cy="829" rx="8.38" ry="9" fill="#0072BD"/><ellipse cx="918.27" cy="988.4" rx="8.38" ry="9" fill="#0072BD"/><ellipse cx="948.95" cy="887.9" rx="8.38" ry="9" fill="#0072BD"/><ellipse cx="979.64" cy="963" rx="8.38" ry="9" fill="#0072BD"/><ellipse cx="1010.32" cy="830" rx="8.38" ry="9" fill="#0072BD"/><ellipse cx="1041.01" cy="870.8" rx="8.38" ry="9" fill="#0072BD"/><ellipse cx="1071.69" cy="852.7" rx="8.38" ry="9" fill="#0072BD"/><ellipse cx="1102.38" cy="830" rx="8.38" ry="9" fill="#0072BD"/><ellipse cx="1133.07" cy="935" rx="8.38" ry="9" fill="#0072BD"/><ellipse cx="1163.75" cy="873.9" rx="8.38" ry="9" fill="#0072BD"/><ellipse cx="1194.43" cy="852.7" rx="8.38" ry="9" fill="#0072BD"/><ellipse cx="1225.12" cy="970.7" rx="8.38" ry="9" fill="#0072BD"/><ellipse cx="1255.8" cy="907.2" rx="8.38" ry="9" fill="#0072BD"/><ellipse cx="1286.49" cy="877" rx="8.38" ry="9" fill="#0072BD"/><ellipse cx="1317.17" cy="852.7" rx="8.38" ry="9" fill="#0072BD"/><ellipse cx="1347.86" cy="807.2" rx="8.38" ry="9" fill="#0072BD"/><ellipse cx="1378.55" cy="883" rx="8.38" ry="9" fill="#0072BD"/><ellipse cx="1409.23" cy="998" rx="8.38" ry="9" fill="#0072BD"/><ellipse cx="1439.91" cy="795" rx="8.38" ry="9" fill="#0072BD"/><ellipse cx="1470.6" cy="992" rx="8.38" ry="9" fill="#0072BD"/><path transform="matrix(0.89,0,0,1,96.83,0)" d="M856.9 1062 L891.49 800.7 L926.09 1070.6 L960.68 1241.7 L995.28 857 L1029.87 930 L1064.46 911.7 L1099.06 937.4 L1133.65 894 L1168.25 916.2 L1202.84 1152.4 L1237.44 916 L1272.03 858.7 L1306.62 1166 L1341.22 869.3 L1375.81 837.5 L1410.41 855.7 L1445 993.4 L1479.59 873.9 L1514.19 919.3 L1548.78 1105.5" fill="none" stroke="#D95319" stroke-width="12.6" stroke-dasharray="46 41" stroke-linejoin="round"/><ellipse cx="856.9" cy="1062" rx="8.38" ry="9" fill="#D95319"/><ellipse cx="887.58" cy="800.7" rx="8.38" ry="9" fill="#D95319"/><ellipse cx="918.27" cy="1070.6" rx="8.38" ry="9" fill="#D95319"/><ellipse cx="948.95" cy="1241.7" rx="8.38" ry="9" fill="#D95319"/><ellipse cx="979.64" cy="857" rx="8.38" ry="9" fill="#D95319"/><ellipse cx="1010.32" cy="930" rx="8.38" ry="9" fill="#D95319"/><ellipse cx="1041.01" cy="911.7" rx="8.38" ry="9" fill="#D95319"/><ellipse cx="1071.69" cy="937.4" rx="8.38" ry="9" fill="#D95319"/><ellipse cx="1102.38" cy="894" rx="8.38" ry="9" fill="#D95319"/><ellipse cx="1133.07" cy="916.2" rx="8.38" ry="9" fill="#D95319"/><ellipse cx="1163.75" cy="1152.4" rx="8.38" ry="9" fill="#D95319"/><ellipse cx="1194.43" cy="916" rx="8.38" ry="9" fill="#D95319"/><ellipse cx="1225.12" cy="858.7" rx="8.38" ry="9" fill="#D95319"/><ellipse cx="1255.8" cy="1166" rx="8.38" ry="9" fill="#D95319"/><ellipse cx="1286.49" cy="869.3" rx="8.38" ry="9" fill="#D95319"/><ellipse cx="1317.17" cy="837.5" rx="8.38" ry="9" fill="#D95319"/><ellipse cx="1347.86" cy="855.7" rx="8.38" ry="9" fill="#D95319"/><ellipse cx="1378.55" cy="993.4" rx="8.38" ry="9" fill="#D95319"/><ellipse cx="1409.23" cy="873.9" rx="8.38" ry="9" fill="#D95319"/><ellipse cx="1439.91" cy="919.3" rx="8.38" ry="9" fill="#D95319"/><ellipse cx="1470.6" cy="1105.5" rx="8.38" ry="9" fill="#D95319"/><path transform="matrix(0.89,0,0,1,96.83,0)" d="M856.9 983 L891.49 927 L926.09 1125.1 L960.68 978 L995.28 911.5 L1029.87 943.5 L1064.46 1282.6 L1099.06 988.9 L1133.65 872.3 L1168.25 853.5 L1202.84 1063 L1237.44 895 L1272.03 883 L1306.62 896.6 L1341.22 887.5 L1375.81 905.6 L1410.41 917.8 L1445 870.8 L1479.59 1073.7 L1514.19 814.8 L1548.78 873.9" fill="none" stroke="#EDB120" stroke-width="12.6" stroke-dasharray="46 41" stroke-linejoin="round"/><ellipse cx="856.9" cy="983" rx="8.38" ry="9" fill="#EDB120"/><ellipse cx="887.58" cy="927" rx="8.38" ry="9" fill="#EDB120"/><ellipse cx="918.27" cy="1125.1" rx="8.38" ry="9" fill="#EDB120"/><ellipse cx="948.95" cy="978" rx="8.38" ry="9" fill="#EDB120"/><ellipse cx="979.64" cy="911.5" rx="8.38" ry="9" fill="#EDB120"/><ellipse cx="1010.32" cy="943.5" rx="8.38" ry="9" fill="#EDB120"/><ellipse cx="1041.01" cy="1282.6" rx="8.38" ry="9" fill="#EDB120"/><ellipse cx="1071.69" cy="988.9" rx="8.38" ry="9" fill="#EDB120"/><ellipse cx="1102.38" cy="872.3" rx="8.38" ry="9" fill="#EDB120"/><ellipse cx="1133.07" cy="853.5" rx="8.38" ry="9" fill="#EDB120"/><ellipse cx="1163.75" cy="1063" rx="8.38" ry="9" fill="#EDB120"/><ellipse cx="1194.43" cy="895" rx="8.38" ry="9" fill="#EDB120"/><ellipse cx="1225.12" cy="883" rx="8.38" ry="9" fill="#EDB120"/><ellipse cx="1255.8" cy="896.6" rx="8.38" ry="9" fill="#EDB120"/><ellipse cx="1286.49" cy="887.5" rx="8.38" ry="9" fill="#EDB120"/><ellipse cx="1317.17" cy="905.6" rx="8.38" ry="9" fill="#EDB120"/><ellipse cx="1347.86" cy="917.8" rx="8.38" ry="9" fill="#EDB120"/><ellipse cx="1378.55" cy="870.8" rx="8.38" ry="9" fill="#EDB120"/><ellipse cx="1409.23" cy="1073.7" rx="8.38" ry="9" fill="#EDB120"/><ellipse cx="1439.91" cy="814.8" rx="8.38" ry="9" fill="#EDB120"/><ellipse cx="1470.6" cy="873.9" rx="8.38" ry="9" fill="#EDB120"/><rect x="1281.5" y="1235.3" width="158.2" height="109.9" fill="#fff" stroke="#000" stroke-width="1.3"/><path d="M1288.7 1255.5H1328.5" stroke="#0072BD" stroke-width="12.7"/><ellipse cx="1322" cy="1255.5" rx="6" ry="9" fill="#0072BD"/><text transform="matrix(0.87,0,0,1,1357.9,1267.29)" font-family='"Liberation Sans", sans-serif' font-size="25.87" font-weight="bold" fill="#000">Case 1</text><path d="M1288.7 1290.9H1328.5" stroke="#D95319" stroke-width="12.7"/><ellipse cx="1322" cy="1290.9" rx="6" ry="9" fill="#D95319"/><text transform="matrix(0.87,0,0,1,1357.9,1302.69)" font-family='"Liberation Sans", sans-serif' font-size="25.87" font-weight="bold" fill="#000">Case 2</text><path d="M1288.7 1325.5H1328.5" stroke="#EDB120" stroke-width="12.7"/><ellipse cx="1322" cy="1325.5" rx="6" ry="9" fill="#EDB120"/><text transform="matrix(0.87,0,0,1,1357.9,1337.23)" font-family='"Liberation Sans", sans-serif' font-size="25.77" font-weight="bold" fill="#000">Case 3</text></g>
<text transform="matrix(1.04,0,0,1,1045.65,1514.34)" font-family='"Liberation Serif", serif' font-size="37.47" fill="#000">(d)</text>
<text transform="matrix(0.98,0,0,1,1101.05,1515.01)" font-family='"Liberation Serif", serif' font-size="45.78" fill="#000">AE:</text>
<text transform="matrix(0.87,0,0,1,1184.4,1514.9)" font-family='"Liberation Serif", serif' font-size="45.8" font-style="italic" fill="#000">I</text>
<text transform="matrix(1.21,0,0,1,1202.71,1515.13)" font-family='"Liberation Serif", serif' font-size="45.51" fill="#000">(</text>
<text transform="matrix(1.21,0,0,1,1220.05,1515.23)" font-family='"Liberation Serif", serif' font-size="46.96" font-style="italic" fill="#000">t</text>
<text transform="matrix(1.22,0,0,1,1237.3,1515.13)" font-family='"Liberation Serif", serif' font-size="45.51" fill="#000">)</text>
<g><path d="M458.2 2163v-5.5M458.2 1592.5v5.5M587.58 2163v-5.5M587.58 1592.5v5.5M716.96 2163v-5.5M716.96 1592.5v5.5M846.34 2163v-5.5M846.34 1592.5v5.5M975.72 2163v-5.5M975.72 1592.5v5.5M1105.1 2163v-5.5M1105.1 1592.5v5.5M458.2 2105.84h3M1105.1 2105.84h-3M458.2 2072.35h3M1105.1 2072.35h-3M458.2 2048.59h3M1105.1 2048.59h-3M458.2 2030.16h3M1105.1 2030.16h-3M458.2 2015.1h3M1105.1 2015.1h-3M458.2 2002.36h3M1105.1 2002.36h-3M458.2 1991.33h3M1105.1 1991.33h-3M458.2 1981.6h3M1105.1 1981.6h-3M458.2 1972.9h5.5M1105.1 1972.9h-5.5M458.2 1915.64h3M1105.1 1915.64h-3M458.2 1882.15h3M1105.1 1882.15h-3M458.2 1858.39h3M1105.1 1858.39h-3M458.2 1839.96h3M1105.1 1839.96h-3M458.2 1824.9h3M1105.1 1824.9h-3M458.2 1812.16h3M1105.1 1812.16h-3M458.2 1801.13h3M1105.1 1801.13h-3M458.2 1791.4h3M1105.1 1791.4h-3M458.2 1782.7h5.5M1105.1 1782.7h-5.5M458.2 1725.44h3M1105.1 1725.44h-3M458.2 1691.95h3M1105.1 1691.95h-3M458.2 1668.19h3M1105.1 1668.19h-3M458.2 1649.76h3M1105.1 1649.76h-3M458.2 1634.7h3M1105.1 1634.7h-3M458.2 1621.96h3M1105.1 1621.96h-3M458.2 1610.93h3M1105.1 1610.93h-3M458.2 1601.2h3M1105.1 1601.2h-3" stroke="#262626" stroke-width="1.62" fill="none"/><rect x="458.2" y="1592.5" width="646.9" height="570.5" fill="none" stroke="#262626" stroke-width="1.8"/><text transform="matrix(0.94,0,0,1,450.83,2203.62)" font-family='"Liberation Sans", sans-serif' font-size="28.41" font-weight="bold" fill="#262626">0</text><text transform="matrix(0.94,0,0,1,569.12,2203.62)" font-family='"Liberation Sans", sans-serif' font-size="28.41" font-weight="bold" fill="#262626">0.2</text><text transform="matrix(0.94,0,0,1,698.03,2203.62)" font-family='"Liberation Sans", sans-serif' font-size="28.41" font-weight="bold" fill="#262626">0.4</text><text transform="matrix(0.94,0,0,1,827.81,2203.62)" font-family='"Liberation Sans", sans-serif' font-size="28.41" font-weight="bold" fill="#262626">0.6</text><text transform="matrix(0.94,0,0,1,957.13,2203.62)" font-family='"Liberation Sans", sans-serif' font-size="28.41" font-weight="bold" fill="#262626">0.8</text><text transform="matrix(0.94,0,0,1,1097.84,2203.9)" font-family='"Liberation Sans", sans-serif' font-size="29.24" font-weight="bold" fill="#262626">1</text><text transform="matrix(0.86,0,0,1,397.12,2179.84)" font-family='"Liberation Sans", sans-serif' font-size="29.54" font-weight="bold" fill="#262626">10</text><text transform="matrix(0.93,0,0,1,425.58,2166.03)" font-family='"Liberation Sans", sans-serif' font-size="24.93" font-weight="bold" fill="#262626">-7</text><text transform="matrix(0.86,0,0,1,397.12,1989.64)" font-family='"Liberation Sans", sans-serif' font-size="29.54" font-weight="bold" fill="#262626">10</text><text transform="matrix(0.95,0,0,1,425.58,1975.58)" font-family='"Liberation Sans", sans-serif' font-size="24.22" font-weight="bold" fill="#262626">-6</text><text transform="matrix(0.86,0,0,1,397.12,1799.44)" font-family='"Liberation Sans", sans-serif' font-size="29.54" font-weight="bold" fill="#262626">10</text><text transform="matrix(0.92,0,0,1,425.59,1785.38)" font-family='"Liberation Sans", sans-serif' font-size="24.57" font-weight="bold" fill="#262626">-5</text><text transform="matrix(0.86,0,0,1,397.12,1609.24)" font-family='"Liberation Sans", sans-serif' font-size="29.54" font-weight="bold" fill="#262626">10</text><text transform="matrix(0.89,0,0,1,425.62,1595.43)" font-family='"Liberation Sans", sans-serif' font-size="24.93" font-weight="bold" fill="#262626">-4</text><text transform="matrix(0.98,0,0,1,736.04,2245.03)" font-family='"Liberation Sans", sans-serif' font-size="31.17" font-weight="bold" fill="#262626">Inputs</text><text transform="matrix(0,-0.98,1,0,380.8,1899.57)" font-family='"Liberation Sans", sans-serif' font-size="31.56" font-weight="bold" fill="#262626">AE</text><path transform="matrix(0.94,0,0,1,29.78,0)" d="M458.2 1602 L492.79 1602 L527.39 1629.4 L561.98 1602 L596.57 1593.1 L631.17 1666.3 L665.76 1595 L700.36 1666.3 L734.95 1696.8 L769.54 1666.3 L804.14 1659.9 L838.73 1654 L873.32 1661.5 L907.92 1650.2 L942.51 1688.7 L977.1 1769 L1011.7 1650.2 L1046.29 1701.6 L1080.88 1769 L1115.48 1655 L1150.07 1749.7" fill="none" stroke="#0072BD" stroke-width="12.6" stroke-dasharray="43.5 38.5" stroke-linejoin="round"/><ellipse cx="458.2" cy="1602" rx="7.97" ry="8.1" fill="#0072BD"/><ellipse cx="490.54" cy="1602" rx="7.97" ry="8.1" fill="#0072BD"/><ellipse cx="522.89" cy="1629.4" rx="7.97" ry="8.1" fill="#0072BD"/><ellipse cx="555.24" cy="1602" rx="7.97" ry="8.1" fill="#0072BD"/><ellipse cx="587.58" cy="1593.1" rx="7.97" ry="8.1" fill="#0072BD"/><ellipse cx="619.92" cy="1666.3" rx="7.97" ry="8.1" fill="#0072BD"/><ellipse cx="652.27" cy="1595" rx="7.97" ry="8.1" fill="#0072BD"/><ellipse cx="684.62" cy="1666.3" rx="7.97" ry="8.1" fill="#0072BD"/><ellipse cx="716.96" cy="1696.8" rx="7.97" ry="8.1" fill="#0072BD"/><ellipse cx="749.3" cy="1666.3" rx="7.97" ry="8.1" fill="#0072BD"/><ellipse cx="781.65" cy="1659.9" rx="7.97" ry="8.1" fill="#0072BD"/><ellipse cx="813.99" cy="1654" rx="7.97" ry="8.1" fill="#0072BD"/><ellipse cx="846.34" cy="1661.5" rx="7.97" ry="8.1" fill="#0072BD"/><ellipse cx="878.68" cy="1650.2" rx="7.97" ry="8.1" fill="#0072BD"/><ellipse cx="911.03" cy="1688.7" rx="7.97" ry="8.1" fill="#0072BD"/><ellipse cx="943.37" cy="1769" rx="7.97" ry="8.1" fill="#0072BD"/><ellipse cx="975.72" cy="1650.2" rx="7.97" ry="8.1" fill="#0072BD"/><ellipse cx="1008.06" cy="1701.6" rx="7.97" ry="8.1" fill="#0072BD"/><ellipse cx="1040.41" cy="1769" rx="7.97" ry="8.1" fill="#0072BD"/><ellipse cx="1072.75" cy="1655" rx="7.97" ry="8.1" fill="#0072BD"/><ellipse cx="1105.1" cy="1749.7" rx="7.97" ry="8.1" fill="#0072BD"/><path transform="matrix(0.94,0,0,1,29.78,0)" d="M458.2 2032.1 L492.79 1605.3 L527.39 1762.6 L561.98 1807.5 L596.57 1692 L631.17 1693.6 L665.76 1748 L700.36 1783.4 L734.95 1711.2 L769.54 1727.3 L804.14 1942.3 L838.73 1722.4 L873.32 1688.7 L907.92 1961.5 L942.51 1701.6 L977.1 1663 L1011.7 1679.1 L1046.29 1801.1 L1080.88 1711 L1115.48 1749.7 L1150.07 1987.2" fill="none" stroke="#D95319" stroke-width="12.6" stroke-dasharray="43.5 38.5" stroke-linejoin="round"/><ellipse cx="458.2" cy="2032.1" rx="7.97" ry="8.1" fill="#D95319"/><ellipse cx="490.54" cy="1605.3" rx="7.97" ry="8.1" fill="#D95319"/><ellipse cx="522.89" cy="1762.6" rx="7.97" ry="8.1" fill="#D95319"/><ellipse cx="555.24" cy="1807.5" rx="7.97" ry="8.1" fill="#D95319"/><ellipse cx="587.58" cy="1692" rx="7.97" ry="8.1" fill="#D95319"/><ellipse cx="619.92" cy="1693.6" rx="7.97" ry="8.1" fill="#D95319"/><ellipse cx="652.27" cy="1748" rx="7.97" ry="8.1" fill="#D95319"/><ellipse cx="684.62" cy="1783.4" rx="7.97" ry="8.1" fill="#D95319"/><ellipse cx="716.96" cy="1711.2" rx="7.97" ry="8.1" fill="#D95319"/><ellipse cx="749.3" cy="1727.3" rx="7.97" ry="8.1" fill="#D95319"/><ellipse cx="781.65" cy="1942.3" rx="7.97" ry="8.1" fill="#D95319"/><ellipse cx="813.99" cy="1722.4" rx="7.97" ry="8.1" fill="#D95319"/><ellipse cx="846.34" cy="1688.7" rx="7.97" ry="8.1" fill="#D95319"/><ellipse cx="878.68" cy="1961.5" rx="7.97" ry="8.1" fill="#D95319"/><ellipse cx="911.03" cy="1701.6" rx="7.97" ry="8.1" fill="#D95319"/><ellipse cx="943.37" cy="1663" rx="7.97" ry="8.1" fill="#D95319"/><ellipse cx="975.72" cy="1679.1" rx="7.97" ry="8.1" fill="#D95319"/><ellipse cx="1008.06" cy="1801.1" rx="7.97" ry="8.1" fill="#D95319"/><ellipse cx="1040.41" cy="1711" rx="7.97" ry="8.1" fill="#D95319"/><ellipse cx="1072.75" cy="1749.7" rx="7.97" ry="8.1" fill="#D95319"/><ellipse cx="1105.1" cy="1987.2" rx="7.97" ry="8.1" fill="#D95319"/><path transform="matrix(0.94,0,0,1,29.78,0)" d="M458.2 1815.5 L492.79 1727.3 L527.39 2091.5 L561.98 1821.9 L596.57 1756.1 L631.17 1759.3 L665.76 1796.3 L700.36 1719.2 L734.95 1708 L769.54 1690.3 L804.14 1810.7 L838.73 1700 L873.32 1704.8 L907.92 1727.3 L942.51 1709.6 L977.1 1733.7 L1011.7 1756.1 L1046.29 1696.8 L1080.88 2019.3 L1115.48 1647 L1150.07 1714.4" fill="none" stroke="#EDB120" stroke-width="12.6" stroke-dasharray="43.5 38.5" stroke-linejoin="round"/><ellipse cx="458.2" cy="1815.5" rx="7.97" ry="8.1" fill="#EDB120"/><ellipse cx="490.54" cy="1727.3" rx="7.97" ry="8.1" fill="#EDB120"/><ellipse cx="522.89" cy="2091.5" rx="7.97" ry="8.1" fill="#EDB120"/><ellipse cx="555.24" cy="1821.9" rx="7.97" ry="8.1" fill="#EDB120"/><ellipse cx="587.58" cy="1756.1" rx="7.97" ry="8.1" fill="#EDB120"/><ellipse cx="619.92" cy="1759.3" rx="7.97" ry="8.1" fill="#EDB120"/><ellipse cx="652.27" cy="1796.3" rx="7.97" ry="8.1" fill="#EDB120"/><ellipse cx="684.62" cy="1719.2" rx="7.97" ry="8.1" fill="#EDB120"/><ellipse cx="716.96" cy="1708" rx="7.97" ry="8.1" fill="#EDB120"/><ellipse cx="749.3" cy="1690.3" rx="7.97" ry="8.1" fill="#EDB120"/><ellipse cx="781.65" cy="1810.7" rx="7.97" ry="8.1" fill="#EDB120"/><ellipse cx="813.99" cy="1700" rx="7.97" ry="8.1" fill="#EDB120"/><ellipse cx="846.34" cy="1704.8" rx="7.97" ry="8.1" fill="#EDB120"/><ellipse cx="878.68" cy="1727.3" rx="7.97" ry="8.1" fill="#EDB120"/><ellipse cx="911.03" cy="1709.6" rx="7.97" ry="8.1" fill="#EDB120"/><ellipse cx="943.37" cy="1733.7" rx="7.97" ry="8.1" fill="#EDB120"/><ellipse cx="975.72" cy="1756.1" rx="7.97" ry="8.1" fill="#EDB120"/><ellipse cx="1008.06" cy="1696.8" rx="7.97" ry="8.1" fill="#EDB120"/><ellipse cx="1040.41" cy="2019.3" rx="7.97" ry="8.1" fill="#EDB120"/><ellipse cx="1072.75" cy="1647" rx="7.97" ry="8.1" fill="#EDB120"/><ellipse cx="1105.1" cy="1714.4" rx="7.97" ry="8.1" fill="#EDB120"/><rect x="846.7" y="2022.8" width="168.6" height="105.5" fill="#fff" stroke="#000" stroke-width="1.8"/><path d="M853.3 2041.7H897.3" stroke="#0072BD" stroke-width="12.7"/><ellipse cx="890.8" cy="2041.7" rx="6" ry="8.1" fill="#0072BD"/><text transform="matrix(0.97,0,0,1,928.25,2053.05)" font-family='"Liberation Sans", sans-serif' font-size="24.59" font-weight="bold" fill="#000">Case 1</text><path d="M853.3 2076.4H897.3" stroke="#D95319" stroke-width="12.7"/><ellipse cx="890.8" cy="2076.4" rx="6" ry="8.1" fill="#D95319"/><text transform="matrix(0.97,0,0,1,928.24,2087.75)" font-family='"Liberation Sans", sans-serif' font-size="24.59" font-weight="bold" fill="#000">Case 2</text><path d="M853.3 2109.9H897.3" stroke="#EDB120" stroke-width="12.7"/><ellipse cx="890.8" cy="2109.9" rx="6" ry="8.1" fill="#EDB120"/><text transform="matrix(0.97,0,0,1,928.24,2121.19)" font-family='"Liberation Sans", sans-serif' font-size="24.51" font-weight="bold" fill="#000">Case 3</text></g>
<text transform="matrix(1.08,0,0,1,672.67,2299.74)" font-family='"Liberation Serif", serif' font-size="35.59" fill="#000">(e)</text>
<text transform="matrix(1.03,0,0,1,725.45,2300.54)" font-family='"Liberation Serif", serif' font-size="44" fill="#000">AE:</text>
<text transform="matrix(0.98,0,0,1,806.96,2301.5)" font-family='"Liberation Serif", serif' font-size="46.26" font-style="italic" fill="#000">T</text>
<text transform="matrix(1.25,0,0,1,836.96,2301.48)" font-family='"Liberation Serif", serif' font-size="45.29" fill="#000">(</text>
<text transform="matrix(1.23,0,0,1,854.2,2301.43)" font-family='"Liberation Serif", serif' font-size="47.13" font-style="italic" fill="#000">t</text>
<text transform="matrix(1.23,0,0,1,871.48,2301.48)" font-family='"Liberation Serif", serif' font-size="45.29" fill="#000">)</text>
</svg></body></html>
